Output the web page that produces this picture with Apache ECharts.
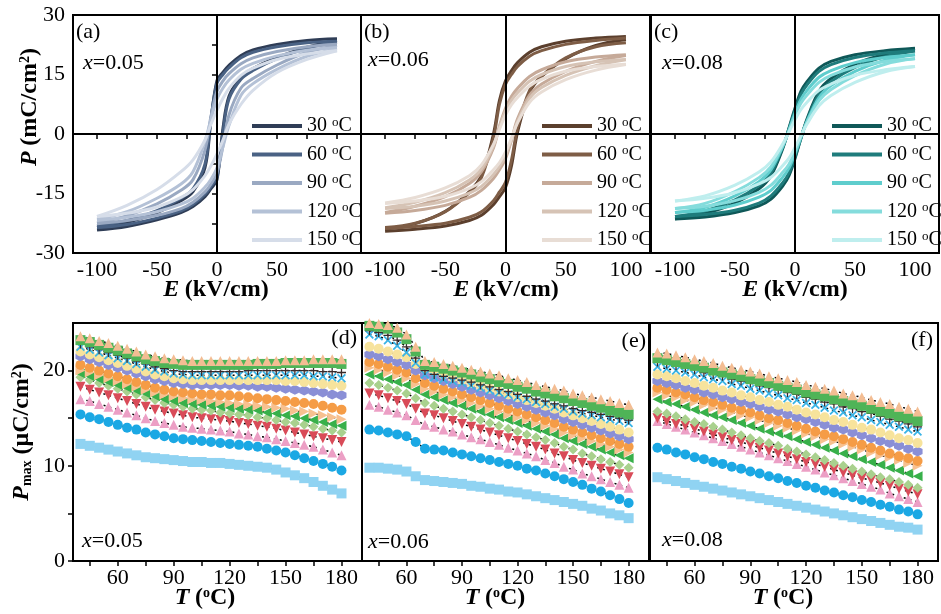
<!DOCTYPE html>
<html>
<head>
<meta charset="utf-8">
<script src="https://cdn.jsdelivr.net/npm/echarts@6.0.0/dist/echarts.min.js"></script>
<style>
  html, body { margin: 0; padding: 0; background: #fff; }
  #chart { width: 941px; height: 614px; }
</style>
</head>
<body>
<div id="chart"></div>
<script>
// ---- data ----
const TEMPS = ['30', '60', '90', '120', '150'];
// field points along the two branches of each P-E loop
const E_UP = [100, 75, 50, 30, 20, 10, 5, 0, -5, -10, -20, -30, -50, -75, -100];
const E_LO = [-100, -75, -50, -30, -20, -10, -5, 0, 5, 10, 20, 30, 50, 75, 100];

// (a) x=0.05
const aUp = [
  [24.0, 23.6, 22.6, 21.2, 19.8, 17.3, 15.6, 13.5, 3.5, -8.5, -14.5, -16.8, -19.8, -22.3, -23.6],
  [23.4, 23.0, 22.0, 20.6, 19.2, 16.7, 15.0, 12.8, 4.0, -7.5, -13.8, -16.2, -19.3, -21.8, -23.2],
  [22.6, 22.0, 20.8, 19.2, 17.7, 15.2, 13.4, 10.8, 4.5, -4.0, -11.5, -14.2, -17.6, -20.6, -22.4],
  [21.8, 21.1, 19.7, 17.8, 16.3, 13.6, 11.6, 8.8, 3.8, -1.8, -9.5, -12.6, -16.2, -19.6, -21.5],
  [21.0, 20.2, 18.8, 16.6, 14.8, 11.5, 9.0, 6.0, 2.5, -1.5, -6.5, -9.5, -14.0, -18.0, -20.8]
];
const aLo = [
  [-24.2, -23.3, -21.6, -19.8, -18.3, -15.8, -13.8, -11.5, 1.5, 9.5, 14.3, 16.5, 19.3, 21.9, 23.6],
  [-23.6, -22.8, -21.2, -19.4, -17.8, -15.2, -13.2, -10.8, 0.5, 8.8, 13.8, 16.0, 19.0, 21.6, 23.2],
  [-22.6, -21.8, -20.5, -18.8, -17.2, -14.6, -12.6, -9.8, -3.0, 4.8, 11.6, 14.0, 17.4, 20.6, 22.3],
  [-21.8, -21.0, -19.6, -17.7, -16.2, -13.4, -11.4, -8.5, -3.2, 2.2, 9.8, 12.7, 16.3, 19.6, 21.5],
  [-20.8, -20.0, -18.4, -16.0, -14.0, -10.5, -8.0, -5.0, -1.5, 2.5, 7.5, 11.0, 15.5, 18.8, 21.0]
];
// (b) x=0.06
const bUp = [
  [24.6, 24.2, 23.4, 22.0, 20.6, 18.0, 16.0, 13.4, 8.5, 0.0, -10.5, -14.5, -19.5, -22.6, -24.0],
  [24.2, 23.6, 22.6, 21.0, 19.6, 17.0, 15.0, 12.5, 7.5, -1.0, -11.0, -14.8, -19.6, -22.5, -23.6],
  [20.0, 19.4, 18.2, 16.2, 14.5, 11.5, 9.5, 6.5, 2.0, -3.5, -9.5, -12.5, -15.8, -18.2, -19.8],
  [18.8, 18.2, 17.0, 15.0, 13.3, 10.4, 8.5, 5.8, 1.8, -3.0, -8.8, -11.6, -14.8, -17.2, -18.6],
  [17.6, 17.0, 15.8, 13.8, 12.1, 9.2, 7.4, 4.8, 1.2, -2.6, -7.8, -10.5, -13.6, -16.0, -17.4]
];
const bLo = [
  [-24.5, -24.0, -23.2, -21.8, -20.5, -17.8, -15.8, -13.5, -8.0, 0.5, 10.5, 14.5, 19.0, 22.3, 23.8],
  [-23.8, -23.3, -22.5, -21.0, -19.6, -16.8, -14.6, -12.2, -6.5, 1.5, 11.0, 14.6, 19.2, 22.0, 23.0],
  [-20.0, -19.3, -18.0, -16.0, -14.2, -11.2, -9.0, -6.2, -1.5, 3.8, 9.8, 12.6, 15.8, 18.3, 19.8],
  [-18.8, -18.2, -16.9, -14.9, -13.2, -10.2, -8.2, -5.5, -1.4, 3.2, 9.0, 11.7, 14.8, 17.2, 18.7],
  [-17.5, -16.9, -15.7, -13.7, -12.0, -9.0, -7.2, -4.6, -1.0, 2.8, 8.0, 10.6, 13.7, 16.1, 17.5]
];
// (c) x=0.08
const cUp = [
  [21.6, 21.0, 20.0, 18.3, 16.6, 13.2, 10.8, 6.5, 1.5, -3.5, -10.5, -13.8, -17.4, -20.0, -21.4],
  [21.0, 20.4, 19.3, 17.5, 15.8, 12.4, 10.0, 6.0, 1.3, -3.2, -9.8, -13.0, -16.6, -19.4, -20.8],
  [20.0, 19.3, 18.0, 16.0, 14.3, 11.0, 8.8, 5.3, 1.0, -3.0, -9.0, -12.0, -15.6, -18.5, -19.8],
  [19.0, 18.3, 16.9, 14.8, 13.0, 9.8, 7.8, 4.6, 0.8, -2.8, -8.2, -11.0, -14.5, -17.5, -18.8],
  [17.0, 16.2, 14.8, 12.6, 11.0, 8.0, 6.2, 3.6, 0.5, -2.4, -7.0, -9.6, -12.9, -15.6, -16.9]
];
const cLo = [
  [-21.4, -20.9, -19.8, -18.1, -16.4, -13.0, -10.5, -6.2, -1.0, 3.8, 10.8, 14.0, 17.6, 20.1, 21.5],
  [-20.8, -20.3, -19.2, -17.4, -15.6, -12.2, -9.8, -5.8, -1.0, 3.5, 10.0, 13.2, 16.8, 19.5, 20.9],
  [-19.8, -19.2, -17.9, -15.9, -14.2, -10.8, -8.6, -5.0, -0.8, 3.2, 9.2, 12.2, 15.8, 18.6, 20.0],
  [-18.8, -18.2, -16.8, -14.7, -12.9, -9.6, -7.6, -4.4, -0.6, 3.0, 8.4, 11.2, 14.7, 17.6, 19.0],
  [-16.9, -16.2, -14.8, -12.6, -10.9, -7.9, -6.1, -3.4, -0.4, 2.5, 7.1, 9.7, 13.0, 15.7, 17.0]
];

// temperature axis of the Pmax panels
const T_VALS = [40, 45, 50, 55, 60, 65, 70, 75, 80, 85, 90, 95, 100, 105, 110,
  115, 120, 125, 130, 135, 140, 145, 150, 155, 160, 165, 170, 175, 180];

// (d) x=0.05, top series first
const dVals = [
  [23.6, 23.4, 23.1, 22.9, 22.6, 22.3, 22.0, 21.7, 21.5, 21.3, 21.2, 21.1, 21.0, 21.0, 21.0, 21.0, 21.0, 21.0, 21.0, 21.0, 21.0, 21.0, 21.1, 21.1, 21.1, 21.2, 21.2, 21.2, 21.2],
  [23.2, 23.0, 22.7, 22.4, 22.1, 21.8, 21.5, 21.2, 21.0, 20.8, 20.7, 20.6, 20.6, 20.6, 20.6, 20.6, 20.6, 20.6, 20.6, 20.7, 20.7, 20.7, 20.8, 20.8, 20.8, 20.8, 20.8, 20.8, 20.7],
  [22.8, 22.5, 22.2, 21.9, 21.6, 21.3, 21.0, 20.7, 20.4, 20.2, 20.0, 19.9, 19.9, 19.9, 19.9, 19.9, 19.9, 19.9, 20.0, 20.0, 20.0, 20.0, 20.0, 20.0, 20.0, 20.0, 19.9, 19.9, 19.8],
  [22.5, 22.2, 21.9, 21.6, 21.3, 21.0, 20.7, 20.4, 20.1, 19.9, 19.7, 19.6, 19.5, 19.5, 19.5, 19.5, 19.5, 19.5, 19.5, 19.5, 19.5, 19.5, 19.5, 19.5, 19.5, 19.4, 19.4, 19.3, 19.2],
  [22.0, 21.7, 21.4, 21.1, 20.8, 20.5, 20.2, 19.9, 19.6, 19.4, 19.2, 19.1, 19.0, 19.0, 19.0, 19.0, 19.0, 19.0, 19.0, 19.0, 19.0, 19.0, 18.9, 18.9, 18.8, 18.7, 18.6, 18.5, 18.4],
  [21.5, 21.2, 20.9, 20.6, 20.3, 20.0, 19.7, 19.4, 19.1, 18.9, 18.7, 18.6, 18.5, 18.5, 18.5, 18.5, 18.5, 18.4, 18.4, 18.3, 18.3, 18.2, 18.1, 18.0, 17.9, 17.8, 17.7, 17.5, 17.4],
  [20.6, 20.3, 20.0, 19.7, 19.4, 19.1, 18.8, 18.5, 18.2, 18.0, 17.8, 17.7, 17.6, 17.5, 17.5, 17.4, 17.4, 17.3, 17.2, 17.1, 17.0, 16.9, 16.8, 16.7, 16.6, 16.5, 16.3, 16.1, 15.9],
  [20.0, 19.8, 19.5, 19.2, 18.9, 18.6, 18.3, 18.0, 17.7, 17.5, 17.3, 17.1, 17.0, 16.9, 16.8, 16.7, 16.6, 16.5, 16.4, 16.3, 16.2, 16.1, 16.0, 15.8, 15.7, 15.5, 15.3, 15.1, 14.9],
  [19.7, 19.4, 19.1, 18.8, 18.5, 18.2, 17.9, 17.6, 17.3, 17.0, 16.8, 16.6, 16.5, 16.4, 16.3, 16.2, 16.1, 16.0, 15.9, 15.8, 15.6, 15.5, 15.3, 15.2, 15.0, 14.8, 14.6, 14.4, 14.2],
  [19.3, 19.0, 18.7, 18.4, 18.1, 17.8, 17.5, 17.2, 16.9, 16.6, 16.4, 16.2, 16.0, 15.9, 15.8, 15.6, 15.5, 15.4, 15.3, 15.1, 15.0, 14.8, 14.6, 14.5, 14.3, 14.1, 13.9, 13.7, 13.5],
  [18.3, 18.0, 17.7, 17.4, 17.1, 16.8, 16.5, 16.2, 15.9, 15.7, 15.5, 15.3, 15.1, 15.0, 14.9, 14.8, 14.7, 14.5, 14.4, 14.2, 14.1, 13.9, 13.7, 13.5, 13.3, 13.1, 12.9, 12.7, 12.5],
  [17.0, 16.8, 16.5, 16.2, 15.9, 15.6, 15.3, 15.0, 14.7, 14.5, 14.3, 14.1, 14.0, 13.9, 13.8, 13.7, 13.6, 13.4, 13.3, 13.1, 13.0, 12.8, 12.6, 12.4, 12.2, 12.0, 11.7, 11.4, 11.1],
  [15.4, 15.1, 14.9, 14.6, 14.3, 14.0, 13.8, 13.5, 13.3, 13.1, 12.9, 12.8, 12.7, 12.6, 12.5, 12.4, 12.3, 12.2, 12.1, 12.0, 11.8, 11.6, 11.4, 11.1, 10.8, 10.5, 10.2, 9.9, 9.5],
  [12.3, 12.1, 11.9, 11.7, 11.5, 11.3, 11.1, 10.9, 10.8, 10.7, 10.6, 10.5, 10.4, 10.4, 10.3, 10.3, 10.2, 10.1, 10.0, 9.9, 9.8, 9.6, 9.3, 9.0, 8.7, 8.3, 7.9, 7.5, 7.1]
];
// (e) x=0.06
const eVals = [
  [25.0, 24.9, 24.8, 24.5, 23.8, 22.5, 21.0, 20.9, 20.7, 20.5, 20.3, 20.1, 19.9, 19.7, 19.5, 19.2, 19.0, 18.8, 18.5, 18.3, 18.1, 17.9, 17.6, 17.4, 17.2, 17.0, 16.8, 16.6, 16.4],
  [24.7, 24.6, 24.4, 24.0, 23.3, 22.0, 20.6, 20.4, 20.2, 20.0, 19.8, 19.6, 19.3, 19.1, 18.8, 18.6, 18.3, 18.1, 17.8, 17.6, 17.3, 17.1, 16.8, 16.6, 16.3, 16.1, 15.8, 15.6, 15.4],
  [24.2, 24.0, 23.7, 23.2, 22.5, 21.3, 20.0, 19.6, 19.4, 19.2, 19.0, 18.8, 18.5, 18.3, 18.0, 17.8, 17.5, 17.3, 17.0, 16.8, 16.5, 16.3, 16.0, 15.8, 15.6, 15.4, 15.2, 15.0, 14.8],
  [23.8, 23.6, 23.2, 22.6, 21.9, 20.8, 19.6, 19.3, 19.1, 18.9, 18.7, 18.4, 18.2, 17.9, 17.7, 17.5, 17.2, 17.0, 16.7, 16.5, 16.2, 16.0, 15.7, 15.5, 15.3, 15.1, 14.9, 14.7, 14.5],
  [22.5, 22.3, 22.0, 21.7, 21.4, 20.7, 20.2, 19.9, 19.6, 19.3, 19.0, 18.7, 18.4, 18.1, 17.8, 17.5, 17.2, 16.9, 16.6, 16.3, 16.0, 15.6, 15.3, 15.0, 14.7, 14.4, 14.1, 13.8, 13.5],
  [21.7, 21.5, 21.2, 20.9, 20.6, 20.0, 19.5, 19.2, 18.9, 18.6, 18.3, 18.0, 17.7, 17.4, 17.1, 16.8, 16.5, 16.2, 15.9, 15.6, 15.3, 14.9, 14.6, 14.3, 14.0, 13.7, 13.4, 13.1, 12.8],
  [20.9, 20.7, 20.4, 20.1, 19.8, 19.2, 18.7, 18.4, 18.1, 17.8, 17.5, 17.2, 16.9, 16.6, 16.3, 16.0, 15.7, 15.4, 15.1, 14.8, 14.5, 14.1, 13.8, 13.5, 13.2, 12.9, 12.6, 12.3, 12.0],
  [20.3, 20.1, 19.8, 19.5, 19.2, 18.6, 18.1, 17.8, 17.5, 17.2, 16.9, 16.6, 16.3, 16.0, 15.7, 15.4, 15.1, 14.8, 14.5, 14.2, 13.9, 13.5, 13.2, 12.9, 12.6, 12.3, 12.0, 11.7, 11.4],
  [19.6, 19.4, 19.1, 18.8, 18.5, 18.0, 17.5, 17.2, 16.9, 16.6, 16.3, 16.0, 15.7, 15.4, 15.1, 14.8, 14.5, 14.2, 13.9, 13.6, 13.3, 12.9, 12.6, 12.3, 12.0, 11.7, 11.4, 11.1, 10.8],
  [18.7, 18.5, 18.2, 17.9, 17.6, 17.1, 16.6, 16.3, 16.0, 15.7, 15.4, 15.1, 14.8, 14.5, 14.2, 13.9, 13.6, 13.3, 13.0, 12.7, 12.4, 12.0, 11.7, 11.3, 11.0, 10.7, 10.4, 10.1, 9.8],
  [17.6, 17.4, 17.1, 16.8, 16.5, 16.0, 15.5, 15.3, 15.0, 14.7, 14.4, 14.1, 13.8, 13.5, 13.2, 12.9, 12.6, 12.3, 12.0, 11.7, 11.3, 11.0, 10.6, 10.3, 10.0, 9.7, 9.4, 9.1, 8.8],
  [16.4, 16.2, 15.9, 15.6, 15.3, 14.8, 14.3, 14.1, 13.8, 13.6, 13.3, 13.0, 12.8, 12.5, 12.2, 11.9, 11.6, 11.3, 11.0, 10.6, 10.3, 9.9, 9.6, 9.2, 8.9, 8.6, 8.3, 8.0, 7.7],
  [13.8, 13.7, 13.5, 13.3, 13.1, 12.5, 11.8, 11.7, 11.6, 11.4, 11.2, 11.0, 10.8, 10.6, 10.4, 10.2, 10.0, 9.7, 9.5, 9.2, 8.9, 8.6, 8.3, 8.0, 7.6, 7.3, 6.9, 6.5, 6.1],
  [9.8, 9.8, 9.7, 9.6, 9.4, 8.9, 8.5, 8.4, 8.3, 8.2, 8.1, 7.9, 7.8, 7.6, 7.5, 7.3, 7.2, 7.0, 6.8, 6.6, 6.4, 6.2, 6.0, 5.8, 5.5, 5.3, 5.0, 4.8, 4.5]
];
// (f) x=0.08
const fVals = [
  [21.9, 21.8, 21.6, 21.4, 21.2, 21.0, 20.8, 20.5, 20.3, 20.1, 19.9, 19.7, 19.4, 19.2, 19.0, 18.8, 18.5, 18.3, 18.1, 17.9, 17.6, 17.4, 17.2, 16.9, 16.7, 16.5, 16.2, 16.0, 15.7],
  [21.3, 21.1, 20.9, 20.7, 20.5, 20.3, 20.0, 19.8, 19.6, 19.4, 19.1, 18.9, 18.7, 18.4, 18.2, 18.0, 17.7, 17.5, 17.3, 17.0, 16.8, 16.5, 16.3, 16.0, 15.7, 15.5, 15.2, 15.0, 14.7],
  [20.9, 20.7, 20.5, 20.3, 20.1, 19.8, 19.6, 19.4, 19.1, 18.9, 18.7, 18.4, 18.2, 18.0, 17.7, 17.5, 17.2, 17.0, 16.7, 16.5, 16.2, 16.0, 15.7, 15.5, 15.2, 14.9, 14.7, 14.4, 14.1],
  [20.4, 20.2, 20.0, 19.8, 19.6, 19.3, 19.1, 18.9, 18.6, 18.4, 18.1, 17.9, 17.6, 17.4, 17.1, 16.9, 16.6, 16.4, 16.1, 15.8, 15.6, 15.3, 15.1, 14.8, 14.6, 14.3, 14.1, 13.8, 13.6],
  [19.6, 19.4, 19.2, 18.9, 18.7, 18.4, 18.2, 17.9, 17.7, 17.4, 17.2, 16.9, 16.7, 16.4, 16.2, 15.9, 15.6, 15.4, 15.1, 14.8, 14.6, 14.3, 14.0, 13.8, 13.5, 13.2, 12.9, 12.7, 12.4],
  [18.9, 18.7, 18.5, 18.2, 18.0, 17.7, 17.5, 17.2, 17.0, 16.7, 16.5, 16.2, 15.9, 15.7, 15.4, 15.1, 14.9, 14.6, 14.3, 14.0, 13.8, 13.5, 13.2, 12.9, 12.6, 12.4, 12.1, 11.8, 11.5],
  [18.2, 18.0, 17.7, 17.5, 17.2, 16.9, 16.7, 16.4, 16.1, 15.9, 15.6, 15.3, 15.0, 14.8, 14.5, 14.2, 13.9, 13.6, 13.3, 13.1, 12.8, 12.5, 12.2, 11.9, 11.6, 11.3, 11.0, 10.8, 10.5],
  [17.7, 17.4, 17.2, 16.9, 16.7, 16.4, 16.1, 15.9, 15.6, 15.3, 15.1, 14.8, 14.5, 14.2, 14.0, 13.7, 13.4, 13.1, 12.8, 12.6, 12.3, 12.0, 11.7, 11.4, 11.1, 10.9, 10.6, 10.3, 10.0],
  [17.0, 16.7, 16.5, 16.2, 15.9, 15.6, 15.3, 15.1, 14.8, 14.5, 14.2, 13.9, 13.6, 13.4, 13.1, 12.8, 12.5, 12.2, 11.9, 11.6, 11.3, 11.0, 10.7, 10.4, 10.1, 9.8, 9.5, 9.2, 8.9],
  [15.7, 15.5, 15.2, 14.9, 14.6, 14.4, 14.1, 13.8, 13.5, 13.2, 12.9, 12.6, 12.4, 12.1, 11.8, 11.5, 11.2, 10.9, 10.6, 10.3, 10.0, 9.7, 9.4, 9.1, 8.8, 8.6, 8.3, 8.0, 7.7],
  [15.0, 14.7, 14.4, 14.2, 13.9, 13.6, 13.3, 13.0, 12.7, 12.5, 12.2, 11.9, 11.6, 11.3, 11.0, 10.7, 10.4, 10.2, 9.9, 9.6, 9.3, 9.0, 8.7, 8.5, 8.2, 7.9, 7.6, 7.3, 7.0],
  [14.7, 14.4, 14.1, 13.8, 13.5, 13.2, 12.9, 12.6, 12.3, 12.0, 11.7, 11.4, 11.1, 10.8, 10.5, 10.2, 9.9, 9.6, 9.3, 9.0, 8.7, 8.4, 8.1, 7.8, 7.5, 7.1, 6.8, 6.5, 6.2],
  [11.9, 11.7, 11.4, 11.2, 10.9, 10.7, 10.4, 10.2, 9.9, 9.7, 9.4, 9.2, 8.9, 8.7, 8.4, 8.2, 7.9, 7.7, 7.4, 7.2, 6.9, 6.7, 6.4, 6.2, 5.9, 5.7, 5.4, 5.2, 4.9],
  [8.8, 8.6, 8.4, 8.2, 8.0, 7.8, 7.6, 7.4, 7.2, 7.0, 6.8, 6.6, 6.4, 6.2, 6.0, 5.8, 5.6, 5.4, 5.2, 5.0, 4.8, 4.6, 4.4, 4.2, 4.0, 3.8, 3.6, 3.5, 3.3]
];

// ---- styles ----
const FONT = 'Liberation Serif';
const aColors = ['#2f3d56', '#4a6284', '#9aa9c2', '#b4c1d6', '#d6dde9'];
const bColors = ['#5b3f2d', '#7e5d46', '#c6aa99', '#d6c3b5', '#e8ddd5'];
const cColors = ['#0f5858', '#1f7c7c', '#5fcdcd', '#84dcdc', '#bfeeee'];

const CROSS = 'path://M4.3,0H5.7V4.3H10V5.7H5.7V10H4.3V5.7H0V4.3H4.3Z';
const XMARK = 'path://M0,1.4L1.4,0L5,3.6L8.6,0L10,1.4L6.4,5L10,8.6L8.6,10L5,6.4L1.4,10L0,8.6L3.6,5Z';
const HEX = 'path://M5,0L9.3,2.5L9.3,7.5L5,10L0.7,7.5L0.7,2.5Z';
// marker style per series row (top row first)
const markers = [
  { c: '#f3bd93', s: 'triangle', r: 0 },
  { c: '#4fb457', s: 'rect', r: 0 },
  { c: '#3a2a2a', s: CROSS, r: 0 },
  { c: '#3ab4e6', s: XMARK, r: 0 },
  { c: '#f7e39c', s: 'circle', r: 0 },
  { c: '#8a8fd6', s: HEX, r: 0 },
  { c: '#f59c46', s: 'circle', r: 0 },
  { c: '#f7c190', s: 'triangle', r: -90 },
  { c: '#38b04a', s: 'triangle', r: 90 },
  { c: '#a9d18e', s: 'diamond', r: 0 },
  { c: '#d94b58', s: 'triangle', r: 180 },
  { c: '#ec9fc5', s: 'triangle', r: 0 },
  { c: '#1ba8e4', s: 'circle', r: 0 },
  { c: '#90d3f2', s: 'rect', r: 0 }
];

const topGrids = [
  { left: 73, top: 15, width: 288, height: 238 },
  { left: 361, top: 15, width: 289, height: 238 },
  { left: 651, top: 15, width: 288, height: 238 }
];
const botGrids = [
  { left: 73, top: 323, width: 289, height: 238 },
  { left: 362, top: 323, width: 287, height: 238 },
  { left: 650, top: 323, width: 288, height: 238 }
];

const grid = topGrids.concat(botGrids).map(g => Object.assign({
  show: true, borderColor: '#000', borderWidth: 2, backgroundColor: 'transparent'
}, g));

const tickStyle = { color: '#000', width: 1.5 };
const lblStyle = { fontFamily: FONT, fontSize: 22, color: '#000' };

const xAxis = [];
const yAxis = [];
for (let i = 0; i < 3; i++) {
  xAxis.push({
    gridIndex: i, type: 'value', min: -120, max: 120,
    axisLine: { lineStyle: { color: '#000', width: 2 } },
    axisTick: { length: 5, lineStyle: tickStyle, customValues: [-100, -75, -50, -25, 0, 25, 50, 75, 100] },
    axisLabel: Object.assign({ customValues: [-100, -50, 0, 50, 100], margin: 6 }, lblStyle),
    splitLine: { show: false }
  });
  yAxis.push({
    gridIndex: i, type: 'value', min: -30, max: 30,
    axisLine: { lineStyle: { color: '#000', width: 2 } },
    axisTick: { show: i === 0, length: 5, lineStyle: tickStyle, customValues: [-30, -22.5, -15, -7.5, 0, 7.5, 15, 22.5, 30] },
    axisLabel: Object.assign({ show: i === 0, customValues: [-30, -15, 0, 15, 30], margin: 8 }, lblStyle),
    splitLine: { show: false }
  });
}
for (let i = 0; i < 3; i++) {
  xAxis.push({
    gridIndex: 3 + i, type: 'value', min: 36, max: 191,
    axisLine: { lineStyle: { color: '#000', width: 2 } },
    axisTick: { length: 5, lineStyle: tickStyle, customValues: [45, 60, 75, 90, 105, 120, 135, 150, 165, 180] },
    axisLabel: Object.assign({ customValues: [60, 90, 120, 150, 180], margin: 6 }, lblStyle),
    splitLine: { show: false }
  });
  yAxis.push({
    gridIndex: 3 + i, type: 'value', min: 0, max: 25,
    axisLine: { lineStyle: { color: '#000', width: 2 } },
    axisTick: { show: i === 0, length: 5, lineStyle: tickStyle, customValues: [0, 5, 10, 15, 20] },
    axisLabel: Object.assign({ show: i === 0, customValues: [0, 10, 20], margin: 8 }, lblStyle),
    splitLine: { show: false }
  });
}

const series = [];
function addLoops(p, key, ups, los, colors) {
  for (let k = 0; k < ups.length; k++) {
    const name = key + k;
    const common = {
      type: 'line', name, xAxisIndex: p, yAxisIndex: p, smooth: 0.35,
      showSymbol: false, symbol: 'none', z: 3,
      lineStyle: { color: colors[k], width: 3 }, itemStyle: { color: colors[k] }
    };
    series.push(Object.assign({}, common, { data: E_UP.map((e, j) => [e, ups[k][j]]) }));
    series.push(Object.assign({}, common, { data: E_LO.map((e, j) => [e, los[k][j]]) }));
  }
  // zero lines
  series.push({
    type: 'line', xAxisIndex: p, yAxisIndex: p, data: [], z: 4,
    markLine: {
      silent: true, symbol: ['none', 'none'], label: { show: false },
      lineStyle: { color: '#000', width: 2, type: 'solid' },
      data: [{ xAxis: 0 }, { yAxis: 0 }]
    }
  });
}
addLoops(0, 'a', aUp, aLo, aColors);
addLoops(1, 'b', bUp, bLo, bColors);
addLoops(2, 'c', cUp, cLo, cColors);

function addPmax(p, vals) {
  for (let k = vals.length - 1; k >= 0; k--) {
    const m = markers[k];
    series.push({
      type: 'line', xAxisIndex: p, yAxisIndex: p,
      data: T_VALS.map((t, j) => [t, vals[k][j]]),
      symbol: m.s, symbolRotate: m.r, symbolSize: m.s === CROSS || m.s === XMARK ? 9 : 10,
      itemStyle: { color: m.c }, lineStyle: { color: '#000', width: 1.5, type: [2, 4] }
    });
  }
}
addPmax(3, dVals);
addPmax(4, eVals);
addPmax(5, fVals);

const legTxt = {
  fontFamily: FONT, fontSize: 20, color: '#000',
  rich: {
    n: { fontFamily: FONT, fontSize: 20, color: '#000' },
    s: { fontFamily: FONT, fontSize: 13, color: '#000', verticalAlign: 'top', lineHeight: 13 }
  }
};
const legend = [['a', 247], ['b', 537], ['c', 827]].map(([key, left]) => ({
  left, top: 111, orient: 'vertical', itemWidth: 50, itemHeight: 4, itemGap: 8.5,
  icon: 'rect', selectedMode: false,
  data: TEMPS.map((t, k) => key + k),
  formatter: name => '{n|' + TEMPS[+name.slice(1)] + ' }{s|o}{n|C}',
  textStyle: legTxt
}));

const R = {
  pi: { fontFamily: FONT, fontSize: 24, fontWeight: 'bold', fontStyle: 'italic', color: '#000' },
  b: { fontFamily: FONT, fontSize: 24, fontWeight: 'bold', color: '#000' },
  sup: { fontFamily: FONT, fontSize: 14, fontWeight: 'bold', color: '#000', verticalAlign: 'top', lineHeight: 14 },
  sub: { fontFamily: FONT, fontSize: 14, fontWeight: 'bold', color: '#000', verticalAlign: 'bottom', lineHeight: 14 },
  i: { fontFamily: FONT, fontSize: 22, fontStyle: 'italic', color: '#000' },
  n: { fontFamily: FONT, fontSize: 22, color: '#000' }
};
function txt(x, y, text, rot, align) {
  return {
    type: 'text', x, y, rotation: rot || 0, z: 100,
    style: { text, rich: R, align: align || 'center', verticalAlign: 'middle', font: '22px ' + FONT }
  };
}
const graphic = [
  txt(30, 107, '{pi|P} {b|(mC/cm}{sup|2}{b|)}', Math.PI / 2),
  txt(22, 432, '{pi|P}{sub|max}{b| (μC/cm}{sup|2}{b|)}', Math.PI / 2),
  txt(216, 290, '{pi|E} {b|(kV/cm)}'),
  txt(506, 290, '{pi|E} {b|(kV/cm)}'),
  txt(795, 290, '{pi|E} {b|(kV/cm)}'),
  txt(205, 598, '{pi|T} {b|(}{sup|o}{b|C)}'),
  txt(495, 598, '{pi|T} {b|(}{sup|o}{b|C)}'),
  txt(783, 598, '{pi|T} {b|(}{sup|o}{b|C)}'),
  txt(76, 32, '{n|(a)}', 0, 'left'),
  txt(364, 32, '{n|(b)}', 0, 'left'),
  txt(654, 32, '{n|(c)}', 0, 'left'),
  txt(83, 63, '{i|x}{n|=0.05}', 0, 'left'),
  txt(368, 60, '{i|x}{n|=0.06}', 0, 'left'),
  txt(662, 63, '{i|x}{n|=0.08}', 0, 'left'),
  txt(357, 338, '{n|(d)}', 0, 'right'),
  txt(646, 341, '{n|(e)}', 0, 'right'),
  txt(933, 340, '{n|(f)}', 0, 'right'),
  txt(82, 541, '{i|x}{n|=0.05}', 0, 'left'),
  txt(368, 542, '{i|x}{n|=0.06}', 0, 'left'),
  txt(662, 540, '{i|x}{n|=0.08}', 0, 'left')
];

const chart = echarts.init(document.getElementById('chart'));
chart.setOption({
  animation: false,
  backgroundColor: '#fff',
  grid, xAxis, yAxis, series, legend, graphic
});
</script>
</body>
</html>
